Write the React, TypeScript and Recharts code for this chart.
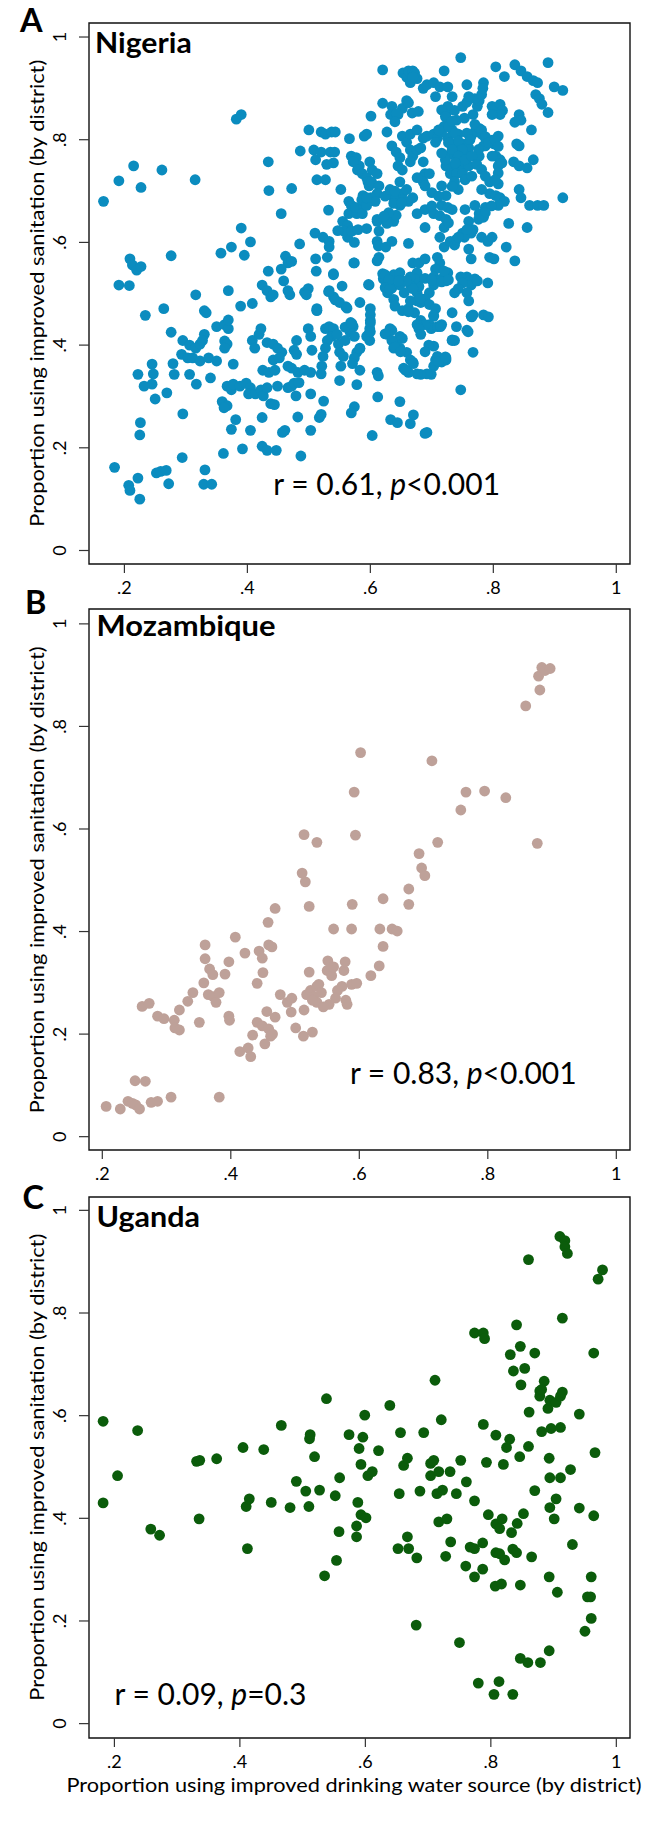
import React from 'react'
import { ScatterChart, Scatter, XAxis, YAxis, ReferenceArea } from 'recharts'

// ── Fonts / colours ───────────────────────────────────────────────────────────
const FONT = 'Lato, "Open Sans", sans-serif'
const C = {
  nigeria: '#0b8cbf',
  mozambique: '#bea199',
  uganda: '#0b5c0b',
  frame: '#111',
  text: '#000',
}

// ── Axis ticks ────────────────────────────────────────────────────────────────
const xTicks = [0.2, 0.4, 0.6, 0.8, 1]
const yTicks = [0, 0.2, 0.4, 0.6, 0.8, 1]
const fmt = (v: number) => (v === 0 ? '0' : v === 1 ? '1' : String(+v.toFixed(1)).replace(/^0/, ''))

const yTitle = 'Proportion using improved sanitation (by district)'
const xTitle = 'Proportion using improved drinking water source (by district)'

// ── Data: [water source, sanitation] per district ────────────────────────────
const nigeria: [number, number][] = [
  [.166,.680],[.191,.720],[.215,.749],[.227,.707],[.209,.568],[.213,.556],[.220,.546],[.227,.553],
  [.191,.517],[.208,.516],[.234,.458],[.264,.471],[.276,.574],[.276,.425],[.261,.741],[.382,.840],[.390,.849],
  [.295,.409],[.306,.400],[.316,.394],[.323,.402],[.315,.722],[.316,.498],[.330,.467],[.333,.463],[.330,.421],[.327,.409],
  [.279,.364],[.281,.343],[.222,.343],[.245,.363],[.247,.344],[.245,.324],[.232,.320],[.250,.295],[.269,.307],
  [.306,.343],[.317,.324],[.340,.336],[.293,.382],[.303,.375],[.311,.375],[.323,.369],[.337,.375],[.350,.369],
  [.295,.266],[.226,.249],[.225,.225],[.184,.162],[.207,.127],[.209,.117],[.222,.141],[.225,.100],
  [.252,.151],[.259,.154],[.268,.156],[.272,.130],[.294,.181],[.331,.157],[.329,.129],[.342,.129],
  [.361,.189],[.374,.236],[.381,.255],[.392,.198],[.405,.234],[.424,.203],[.432,.195],[.447,.195],[.424,.259],
  [.461,.234],[.457,.230],[.487,.184],[.482,.260],[.503,.234],[.517,.259],[.520,.265],
  [.503,.305],[.524,.291],[.550,.331],[.574,.280],[.569,.268],[.578,.323],[.603,.224],[.612,.299],[.611,.347],[.613,.340],
  [.633,.255],[.644,.249],[.648,.290],[.670,.264],[.665,.247],[.689,.228],[.692,.230],[.747,.313],
  [.350,.436],[.363,.440],[.369,.432],[.363,.408],[.367,.402],[.363,.394],[.377,.363],
  [.367,.320],[.374,.313],[.377,.324],[.388,.320],[.398,.326],[.405,.317],[.402,.305],[.413,.305],[.422,.313],[.426,.301],
  [.359,.290],[.367,.282],[.362,.278],[.369,.449],[.369,.506],[.357,.579],[.374,.591],[.390,.628],[.405,.601],[.395,.575],
  [.389,.476],[.408,.481],[.408,.409],[.419,.421],[.412,.394],[.422,.432],
  [.432,.405],[.442,.402],[.449,.394],[.456,.386],[.425,.351],[.435,.347],[.445,.351],[.442,.371],[.452,.375],
  [.432,.317],[.449,.320],[.438,.286],[.444,.284],
  [.466,.359],[.472,.355],[.482,.347],[.493,.351],[.503,.347],[.466,.317],[.472,.320],[.479,.301],[.476,.326],[.484,.327],
  [.480,.409],[.476,.390],[.480,.382],[.499,.432],[.503,.417],[.505,.390],[.513,.467],
  [.493,.503],[.499,.510],[.496,.498],[.469,.498],[.466,.506],[.459,.525],[.462,.573],[.466,.560],[.455,.548],[.472,.563],
  [.434,.544],[.424,.517],[.432,.506],[.438,.494],[.442,.498],[.485,.597],[.455,.656],[.435,.701],[.434,.757],[.472,.705],[.486,.778],
  [.500,.819],[.508,.780],[.511,.761],[.520,.776],[.513,.722],[.527,.722],[.535,.776],[.542,.776],[.540,.755],
  [.520,.815],[.527,.811],[.537,.815],[.543,.815],[.532,.663],
  [.510,.618],[.523,.610],[.533,.602],[.533,.591],[.511,.568],[.512,.544],[.530,.571],[.540,.539],
  [.533,.506],[.540,.494],[.550,.483],[.560,.475],[.513,.471],
  [.527,.432],[.533,.436],[.540,.432],[.537,.417],[.530,.409],[.527,.394],[.523,.378],[.521,.359],[.520,.344],
  [.552,.359],[.548,.402],[.546,.421],[.550,.386],
  [.568,.444],[.572,.436],[.567,.425],[.574,.417],[.559,.409],[.578,.386],[.574,.375],[.571,.364],[.583,.394],[.556,.378],[.583,.351],
  [.583,.483],[.574,.560],[.574,.600],[.566,.802],[.552,.703],
  [.555,.641],[.563,.633],[.565,.622],[.563,.610],[.557,.622],[.547,.623],[.570,.622],[.580,.625],
  [.565,.656],[.578,.656],[.565,.680],[.569,.672],[.576,.668],
  [.569,.768],[.577,.765],[.582,.749],[.572,.757],[.579,.741],
  [.587,.734],[.594,.726],[.596,.718],[.598,.710],[.588,.691],[.589,.672],[.586,.683],[.587,.656],[.594,.627],
  [.590,.807],[.594,.811],[.601,.846],[.599,.757],
  [.603,.741],[.611,.734],[.602,.718],[.614,.710],[.611,.695],[.601,.687],[.608,.680],[.594,.672],[.594,.687],
  [.611,.645],[.611,.641],[.614,.622],[.611,.602],[.613,.593],
  [.614,.571],[.611,.564],[.620,.539],[.621,.529],[.631,.521],[.638,.537],[.635,.511],[.628,.502],[.625,.591],[.635,.602],
  [.598,.517],[.600,.471],[.600,.459],[.600,.448],[.599,.432],[.597,.421],[.599,.409],[.594,.417],
  [.620,.871],[.620,.936],[.627,.815],
  [.635,.788],[.642,.776],[.648,.765],[.645,.749],[.652,.741],
  [.635,.865],[.645,.849],[.652,.861],[.659,.876],[.662,.872],[.633,.849],[.642,.851],
  [.653,.930],[.659,.922],[.662,.934],[.669,.934],[.672,.930],[.676,.919],[.665,.911],[.669,.922],
  [.686,.900],[.692,.907],[.703,.911],[.713,.903],[.706,.884],[.720,.934],[.726,.903],[.733,.884],
  [.652,.807],[.659,.795],[.665,.811],[.676,.819],
  [.686,.803],[.692,.807],[.703,.811],[.709,.803],[.706,.795],
  [.648,.718],[.652,.695],[.659,.703],[.652,.683],[.662,.680],[.669,.687],[.648,.672],[.638,.687],[.638,.676],
  [.635,.649],[.638,.641],[.642,.653],[.621,.645],[.627,.637],
  [.665,.780],[.669,.768],[.676,.780],[.682,.784],[.665,.757],
  [.686,.757],[.689,.734],[.682,.726],[.686,.718],[.696,.734],
  [.676,.656],[.689,.664],[.703,.656],[.713,.652],[.723,.645],[.720,.629],[.689,.629],
  [.713,.610],[.720,.591],[.730,.602],[.737,.595],[.740,.606],[.750,.618],
  [.709,.571],[.713,.560],[.706,.548],[.703,.533],[.709,.525],[.716,.529],[.723,.525],[.726,.541],[.720,.544],
  [.703,.517],[.696,.502],[.689,.490],[.682,.483],[.676,.486],[.676,.502],[.676,.525],[.679,.514],
  [.696,.479],[.706,.471],[.703,.456],[.696,.440],[.699,.432],[.682,.448],[.689,.440],
  [.709,.436],[.716,.440],[.733,.409],[.723,.371],[.716,.367],[.723,.375],[.706,.371],[.703,.359],[.699,.343],[.692,.344],[.682,.343],[.676,.344],
  [.672,.463],[.676,.440],[.679,.432],[.682,.421],
  [.648,.417],[.652,.413],[.642,.402],[.638,.394],[.648,.394],[.659,.386],[.665,.371],[.669,.367],[.659,.351],[.654,.355],[.662,.347],
  [.632,.432],[.635,.429],[.628,.421],[.652,.467],[.662,.471],[.665,.486],
  [.669,.560],[.676,.541],[.672,.529],[.665,.517],[.669,.510],[.665,.533],
  [.648,.541],[.652,.525],[.648,.517],[.659,.525],[.655,.502],
  [.730,.772],[.737,.784],[.743,.768],[.740,.757],[.747,.749],[.733,.741],[.723,.749],[.730,.734],[.740,.734],[.750,.741],[.737,.718],[.743,.703],
  [.726,.865],[.723,.849],[.726,.834],[.733,.819],[.720,.826],[.737,.857],[.740,.838],[.750,.865],[.757,.873],[.753,.842],[.743,.811],
  [.726,.803],[.716,.815],[.730,.795],[.750,.792],[.760,.784],[.764,.807],[.770,.815],[.767,.849],[.774,.865],[.777,.876],
  [.770,.880],[.781,.888],[.784,.911],[.783,.900],[.760,.884],[.757,.907],[.747,.960],
  [.740,.780],[.757,.768],[.753,.757],[.760,.749],[.750,.734],
  [.777,.822],[.781,.811],[.787,.803],[.784,.788],[.777,.768],
  [.798,.865],[.804,.861],[.811,.869],[.815,.857],[.811,.849],[.798,.849],
  [.804,.942],[.818,.923],[.835,.946],[.845,.934],[.855,.923],[.865,.915],[.872,.911],[.889,.950],[.869,.888],[.875,.880],
  [.879,.869],[.889,.853],[.899,.903],[.913,.896],
  [.842,.849],[.845,.838],[.862,.819],[.835,.834],
  [.842,.788],[.838,.792],[.833,.757],[.842,.749],[.865,.761],[.855,.745],
  [.808,.807],[.798,.799],[.791,.799],[.787,.788],[.801,.792],[.804,.768],[.811,.761],[.808,.749],
  [.794,.718],[.808,.714],[.794,.695],[.804,.691],[.811,.687],[.818,.680],[.808,.672],[.787,.668],
  [.842,.703],[.845,.687],[.859,.672],[.872,.672],[.882,.672],[.913,.687],
  [.770,.672],[.777,.656],[.784,.649],[.767,.625],[.781,.610],[.791,.602],[.798,.610],[.794,.571],[.801,.568],[.825,.637],[.821,.591],[.835,.564],[.855,.629],
  [.760,.641],[.764,.618],[.753,.610],[.743,.610],[.760,.587],[.764,.568],
  [.757,.533],[.770,.529],[.764,.517],[.774,.525],[.791,.521],[.784,.459],
  [.757,.502],[.760,.486],[.764,.456],[.767,.459],[.757,.429],[.767,.386],
  [.747,.533],[.750,.521],[.743,.510],[.737,.502],[.733,.463],[.740,.436],[.737,.409],[.703,.398],[.709,.378],
  [.716,.710],[.723,.691],[.716,.672],[.726,.668],[.679,.560],[.689,.568],[.662,.598],
  [.668,.852],[.678,.855],[.640,.835],[.529,.752],
  [.716,.858],[.722,.845],[.727,.826],[.733,.836],[.738,.813],[.743,.797],[.749,.781],[.727,.794],[.733,.781],
  [.743,.768],[.754,.761],[.738,.755],[.722,.761],[.716,.774],[.711,.819],
  [.757,.813],[.762,.800],[.770,.830],[.781,.819],[.787,.806],[.792,.794],[.803,.800],[.808,.787],[.798,.768],
  [.776,.781],[.765,.768],[.773,.752],[.781,.742],[.787,.729],[.808,.735],[.814,.755],
  [.624,.690],[.632,.703],[.640,.700],[.651,.677],[.630,.658],[.622,.651],
  [.676,.726],[.689,.710],[.700,.697],[.711,.690],[.733,.709],[.754,.722],[.765,.729],[.781,.703],[.803,.722],
  [.797,.671],[.787,.658],[.776,.645],[.757,.625],[.727,.638],[.700,.671],[.733,.664],[.754,.664],
  [.540,.537],[.554,.515],[.532,.504],[.543,.488],[.562,.472],[.513,.468],[.573,.560],[.597,.518],
  [.624,.537],[.630,.527],[.646,.525],[.624,.512],[.632,.509],[.638,.489],[.640,.476],
  [.600,.443],[.600,.426],[.662,.465],[.689,.530],[.700,.527],[.716,.523],[.727,.527],[.681,.491],
  [.695,.400],[.689,.387],[.711,.368],[.722,.377],[.703,.458],[.714,.436],[.733,.410],[.765,.455],[.759,.426],[.792,.455],
  [.559,.435],[.570,.442],[.583,.393],[.624,.422],[.635,.409],[.640,.396],[.649,.387],[.670,.364],[.657,.351],
]

const mozambique: [number, number][] = [
  [.206,.059],[.228,.054],[.240,.069],[.247,.065],[.252,.062],[.258,.054],[.251,.109],[.267,.108],
  [.276,.067],[.286,.069],[.307,.077],[.382,.077],[.262,.254],[.273,.260],[.286,.235],[.296,.230],
  [.320,.247],[.312,.227],[.313,.212],[.320,.208],[.333,.264],[.341,.281],[.351,.223],[.358,.300],
  [.360,.374],[.360,.347],[.367,.327],[.372,.316],[.365,.277],[.373,.273],[.377,.262],[.382,.281],
  [.391,.317],[.397,.341],[.397,.235],[.398,.227],[.407,.389],[.422,.358],[.414,.166],[.427,.173],[.431,.156],
  [.434,.198],[.441,.299],[.444,.362],[.449,.348],[.450,.320],[.458,.418],[.459,.374],[.464,.370],[.469,.445],
  [.441,.223],[.449,.216],[.456,.244],[.459,.210],[.462,.196],[.465,.200],[.469,.233],[.453,.181],
  [.477,.277],[.488,.262],[.495,.270],[.494,.243],[.501,.212],[.511,.514],[.516,.497],[.514,.589],[.534,.574],
  [.522,.449],[.513,.196],[.527,.204],[.514,.247],[.522,.321],
  [.518,.277],[.524,.285],[.529,.273],[.534,.293],[.537,.297],[.541,.281],[.534,.262],[.527,.266],
  [.550,.324],[.551,.343],[.557,.314],[.560,.331],[.566,.285],[.563,.270],[.553,.258],[.544,.253],
  [.573,.293],[.576,.324],[.578,.341],[.579,.266],[.581,.258],
  [.560,.405],[.588,.405],[.589,.453],[.592,.672],[.594,.588],[.602,.749],[.588,.297],[.596,.299],
  [.618,.314],[.631,.333],[.632,.405],[.637,.464],[.637,.371],[.651,.405],[.659,.401],
  [.677,.483],[.677,.453],[.693,.552],[.697,.524],[.702,.509],[.713,.733],[.722,.574],
  [.758,.637],[.766,.672],[.795,.674],[.828,.661],[.859,.840],[.877,.572],
  [.881,.871],[.879,.898],[.884,.915],[.889,.909],[.897,.913],
]

const uganda: [number, number][] = [
  [.182,.589],[.182,.430],[.205,.483],[.237,.571],[.258,.379],[.272,.367],[.331,.511],[.336,.513],[.363,.516],
  [.335,.399],[.405,.538],[.438,.534],[.466,.581],[.410,.423],[.415,.438],[.412,.341],[.450,.431],
  [.480,.421],[.490,.472],[.505,.453],[.510,.423],[.511,.555],[.512,.563],[.519,.520],[.527,.455],
  [.538,.633],[.535,.288],[.552,.444],[.559,.479],[.558,.374],[.554,.318],[.574,.563],
  [.586,.385],[.586,.364],[.588,.431],[.590,.536],[.593,.505],[.596,.558],[.599,.601],[.593,.407],[.601,.401],
  [.604,.483],[.611,.491],[.621,.532],[.639,.620],[.654,.448],[.656,.567],[.652,.341],[.667,.364],[.669,.341],
  [.661,.503],[.667,.517],[.682,.323],[.681,.192],[.687,.453],[.693,.567],[.704,.507],[.709,.513],
  [.704,.483],[.717,.491],[.711,.669],[.721,.592],[.717,.393],[.730,.399],[.714,.448],[.723,.455],
  [.728,.326],[.736,.354],[.735,.491],[.745,.448],[.750,.158],[.752,.513],[.761,.471],[.760,.307],
  [.767,.344],[.774,.341],[.774,.286],[.774,.761],[.788,.761],[.790,.750],[.774,.434],[.787,.352],[.787,.301],
  [.788,.583],[.793,.509],[.796,.407],[.808,.389],[.814,.380],[.818,.399],[.808,.562],[.808,.333],[.814,.331],
  [.807,.268],[.817,.272],[.820,.505],[.822,.319],[.825,.538],[.830,.554],[.831,.719],[.836,.687],[.841,.777],
  [.833,.372],[.835,.340],[.841,.333],[.842,.390],[.846,.520],[.847,.735],[.848,.660],[.854,.692],[.847,.270],
  [.852,.409],[.860,.904],[.860,.540],[.861,.607],[.865,.325],[.870,.722],[.870,.454],
  [.878,.648],[.878,.638],[.885,.667],[.881,.651],[.881,.569],[.893,.517],
  [.891,.614],[.894,.630],[.904,.626],[.911,.638],[.914,.646],[.894,.479],[.911,.479],[.894,.421],[.904,.438],
  [.901,.399],[.893,.286],[.906,.256],[.893,.142],[.896,.575],[.911,.577],
  [.910,.949],[.918,.941],[.918,.929],[.922,.916],[.914,.790],[.927,.495],[.930,.349],[.941,.603],[.941,.420],
  [.950,.180],[.954,.247],[.959,.247],[.960,.286],[.960,.205],[.964,.722],[.966,.528],[.964,.405],
  [.971,.866],[.978,.884],[.847,.127],[.859,.119],[.879,.119],[.780,.079],[.805,.057],[.813,.082],[.835,.057],
]

// ── Panel layout ──────────────────────────────────────────────────────────────
const W = 653
const ML = 89
const MR = 23
const MT = 23
const PLOT_H = 541
const XAXIS_H = 55

const panels = [
  { key: 'A', top: -0.3, color: C.nigeria, data: nigeria, xDomain: [0.1424, 1.0223], yDomain: [-0.0263, 1.0273] },
  { key: 'B', top: 586.3, color: C.mozambique, data: mozambique, xDomain: [0.1793, 1.0213], yDomain: [-0.026, 1.029] },
  { key: 'C', top: 1173.7, color: C.uganda, data: uganda, xDomain: [0.1595, 1.0218], yDomain: [-0.028, 1.026] },
]

function XTick(props: any) {
  const { x, y, payload } = props
  return (
    <text x={x} y={y + 11} dy="0.35em" textAnchor="middle" fontFamily={FONT} fontSize={18} fill={C.text}>
      {fmt(payload.value)}
    </text>
  )
}

function YTick(props: any) {
  const { x, y, payload } = props
  const cx = x - 15
  return (
    <text x={cx} y={y} dy="0.35em" textAnchor="middle" transform={`rotate(-90 ${cx} ${y})`}
      fontFamily={FONT} fontSize={18} fill={C.text}>
      {fmt(payload.value)}
    </text>
  )
}

function Panel({ p }: { p: typeof panels[number] }) {
  const H = MT + PLOT_H + XAXIS_H
  const rows = p.data.map(([x, y]) => ({ x, y }))
  return (
    <div style={{ position: 'absolute', left: 0, top: p.top }}>
      <ScatterChart width={W} height={H} margin={{ top: MT, right: MR, bottom: 0, left: 0 }}>
        <XAxis type="number" dataKey="x" domain={p.xDomain} ticks={xTicks} allowDataOverflow interval={0}
          height={XAXIS_H} axisLine={false} tickSize={9} tickMargin={4}
          tickLine={{ stroke: '#333', strokeWidth: 1.2 }} tick={<XTick />} />
        <YAxis type="number" dataKey="y" domain={p.yDomain} ticks={yTicks} allowDataOverflow interval={0}
          width={ML} axisLine={false} tickSize={10} tickMargin={4}
          tickLine={{ stroke: '#333', strokeWidth: 1.2 }} tick={<YTick />} />
        <Scatter data={rows} isAnimationActive={false}
          shape={(s: any) => <circle cx={s.cx} cy={s.cy} r={5.4} fill={p.color} />} />
        <ReferenceArea x1={p.xDomain[0]} x2={p.xDomain[1]} y1={p.yDomain[0]} y2={p.yDomain[1]}
          fill="none" fillOpacity={0} stroke={C.frame} strokeWidth={1.4} ifOverflow="visible" />
      </ScatterChart>
    </div>
  )
}

// ── Overlay text (letters, titles, stats) ─────────────────────────────────────
function Overlay() {
  const yTitleCenters = [293.2, 879.8, 1467.2]
  return (
    <svg width={W} height={1838} style={{ position: 'absolute', left: 0, top: 0, pointerEvents: 'none' }}
      fontFamily={FONT} fill={C.text}>
      <text x={20} y={31.7} fontSize={32.5} fontWeight={700}>A</text>
      <text x={25} y={614.4} fontSize={32.5} fontWeight={700}>B</text>
      <text x={22.5} y={1209.3} fontSize={32.5} fontWeight={700}>C</text>

      <text x={95} y={52.5} fontSize={29} fontWeight={700} textLength={96.7} lengthAdjust="spacingAndGlyphs">Nigeria</text>
      <text x={96.6} y={636.2} fontSize={29} fontWeight={700} textLength={179} lengthAdjust="spacingAndGlyphs">Mozambique</text>
      <text x={96.6} y={1226.9} fontSize={29} fontWeight={700} textLength={103.4} lengthAdjust="spacingAndGlyphs">Uganda</text>

      <text x={273.3} y={495} fontSize={30}>r = 0.61, <tspan fontStyle="italic">p</tspan>&lt;0.001</text>
      <text x={349.9} y={1083.6} fontSize={30}>r = 0.83, <tspan fontStyle="italic">p</tspan>&lt;0.001</text>
      <text x={114.5} y={1705.1} fontSize={30}>r = 0.09, <tspan fontStyle="italic">p</tspan>=0.3</text>

      {yTitleCenters.map((cy) => (
        <text key={cy} transform={`translate(43.5 ${cy}) rotate(-90)`} textAnchor="middle" fontSize={19.5}
          textLength={467} lengthAdjust="spacingAndGlyphs">{yTitle}</text>
      ))}
      <text x={354} y={1792} textAnchor="middle" fontSize={20} textLength={575} lengthAdjust="spacingAndGlyphs">
        {xTitle}
      </text>
    </svg>
  )
}

export default function App() {
  return (
    <div style={{ position: 'absolute', left: 0, top: 0, width: W, height: 1838, background: '#fff' }}>
      {panels.map((p) => <Panel key={p.key} p={p} />)}
      <Overlay />
    </div>
  )
}
